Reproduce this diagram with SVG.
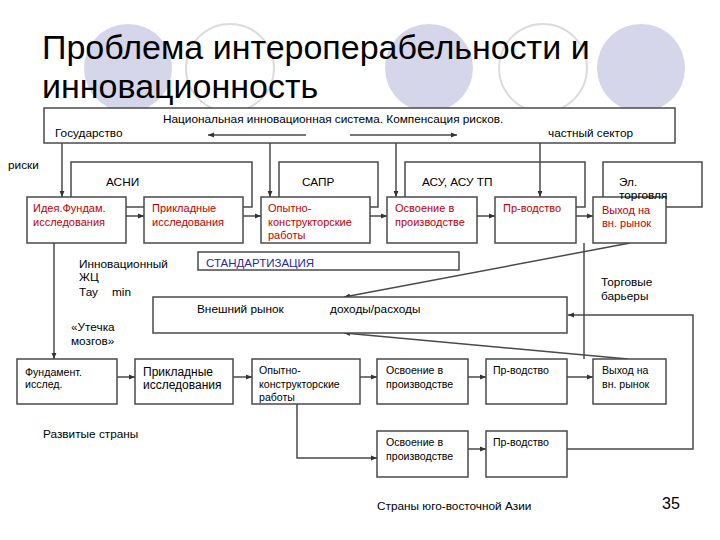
<svg xmlns="http://www.w3.org/2000/svg" width="720" height="540" viewBox="0 0 720 540">
<defs>
<marker id="a" viewBox="0 0 6 6" refX="6" refY="3" markerWidth="6" markerHeight="6" markerUnits="userSpaceOnUse" orient="auto"><path d="M0,0.6 L6,3 L0,5.4z" fill="#333"/></marker>
<style>
text{font-family:"Liberation Sans",Arial,sans-serif;fill:#000}
.b{fill:#fff;stroke:#4a4a4a;stroke-width:1.5}
.l{fill:none;stroke:#4a4a4a;stroke-width:1.5}
.ar{fill:none;stroke:#4a4a4a;stroke-width:1.5;marker-end:url(#a)}
.t{font-size:11.8px}
.r{font-size:11px;fill:#c00000}
.s{font-size:10.6px}
.lav{fill:#d6d6ea}
.ring{fill:#fff;stroke:#dcdcdc;stroke-width:2}
</style>
</defs>
<rect width="720" height="540" fill="#fff"/>
<g id="background">
<circle class="lav" cx="128" cy="68" r="44"/>
<circle class="ring" cx="230" cy="68" r="44"/>
<circle class="lav" cx="429" cy="68" r="44"/>
<circle class="ring" cx="543" cy="68" r="44"/>
<circle class="lav" cx="641" cy="68" r="44"/>
</g>
<g id="title">
<text x="42" y="59" font-size="34">Проблема интероперабельности и</text>
<text x="42" y="98" font-size="34">инновационность</text>
</g>
<g id="frames">
<path class="l" d="M71,197 V162 H252 V207 H243"/>
<path class="l" d="M279,197 V162 H378 V207 H370"/>
<path class="l" d="M405,197 V162 H585 V207 H576"/>
<path class="l" d="M603,197 V162 H702 V207 H666"/>
<text class="t" x="106" y="186" font-size="12">АСНИ</text>
<text class="t" x="302" y="186" font-size="12">САПР</text>
<text class="t" x="422" y="186" font-size="12">АСУ, АСУ ТП</text>
<text class="t" x="619" y="186" font-size="12">Эл.</text>
</g>
<g id="nis">
<rect class="b" x="44" y="108" width="631" height="35"/>
<text class="t" x="163" y="123">Национальная инновационная система. Компенсация рисков.</text>
<text class="t" x="55" y="137">Государство</text>
<text class="t" x="548" y="137">частный сектор</text>
</g>
<g id="connectors">
<line class="ar" x1="306" y1="135" x2="208" y2="135"/>
<line class="ar" x1="350" y1="135" x2="457" y2="135"/>
<line class="ar" x1="62" y1="143" x2="62" y2="197"/>
<line class="ar" x1="270" y1="143" x2="270" y2="197"/>
<line class="ar" x1="396" y1="143" x2="396" y2="197"/>
<line class="ar" x1="540" y1="143" x2="540" y2="197"/>
<line class="l" x1="126" y1="207" x2="144" y2="207"/>
<line class="ar" x1="126" y1="216" x2="144" y2="216"/>
<line class="ar" x1="243" y1="216" x2="261" y2="216"/>
<line class="ar" x1="370" y1="216" x2="387" y2="216"/>
<line class="ar" x1="477" y1="216" x2="495" y2="216"/>
<line class="ar" x1="576" y1="216" x2="593" y2="216"/>
<line class="ar" x1="54" y1="243" x2="54" y2="359"/>
<line class="ar" x1="630" y1="243" x2="344" y2="297"/>
<line class="ar" x1="628" y1="359" x2="344" y2="333"/>
<line class="l" x1="584" y1="243" x2="584" y2="359"/>
<path class="ar" d="M567,449 H693 V315 H568"/>
<line class="ar" x1="117" y1="377" x2="135" y2="377"/>
<line class="ar" x1="233" y1="377" x2="252" y2="377"/>
<line class="ar" x1="360" y1="377" x2="377" y2="377"/>
<line class="ar" x1="468" y1="377" x2="486" y2="377"/>
<line class="ar" x1="567" y1="377" x2="593" y2="377"/>
<path class="ar" d="M297,404 V458 H377"/>
<line class="ar" x1="468" y1="449" x2="486" y2="449"/>
</g>
<g id="n1"><rect class="b" x="27" y="197" width="99" height="46"/><text class="r" x="33" y="212">Идея.Фундам.</text><text class="r" x="33" y="225.5">исследования</text></g>
<g id="n2"><rect class="b" x="144" y="197" width="99" height="46"/><text class="r" x="152" y="212">Прикладные</text><text class="r" x="152" y="225.5">исследования</text></g>
<g id="n3"><rect class="b" x="261" y="197" width="109" height="46"/><text class="r" x="268" y="212">Опытно-</text><text class="r" x="268" y="225.5">конструкторские</text><text class="r" x="268" y="239">работы</text></g>
<g id="n4"><rect class="b" x="387" y="197" width="90" height="46"/><text class="r" x="395" y="212">Освоение в</text><text class="r" x="395" y="225.5">производстве</text></g>
<g id="n5"><rect class="b" x="495" y="197" width="81" height="46"/><text class="r" x="503" y="212">Пр-водство</text></g>
<g id="n6"><rect class="b" x="593" y="197" width="73" height="46"/><text class="r" x="602" y="213.5">Выход на</text><text class="r" x="602" y="226.5">вн. рынок</text></g>
<text class="t" x="619" y="198.5" font-size="12">торговля</text>
<g id="labels">
<text class="t" x="8" y="169">риски</text>
<text class="t" x="79" y="267.5" font-size="12">Инновационный</text>
<text class="t" x="79" y="280.5" font-size="12">ЖЦ</text>
<text class="t" x="79" y="296" font-size="12">Тау</text>
<text class="t" x="112" y="296" font-size="12">min</text>
<text class="t" x="71" y="331">«Утечка</text>
<text class="t" x="71" y="344.5">мозгов»</text>
<text class="t" x="601" y="286">Торговые</text>
<text class="t" x="601" y="299.5">барьеры</text>
<text class="t" x="43" y="437.5" font-size="12">Развитые страны</text>
<text class="t" x="377" y="509.5" font-size="12">Страны юго-восточной Азии</text>
<text x="662" y="509" font-size="16">35</text>
</g>
<g id="std"><rect class="b" x="198" y="252" width="261" height="18"/><text x="206" y="267" font-size="11.5" fill="#2a2aa0" style="fill:#2a2aa0">СТАНДАРТИЗАЦИЯ</text></g>
<g id="market"><rect class="b" x="153" y="297" width="414" height="36"/><text class="t" x="197" y="312.5">Внешний рынок</text><text class="t" x="330" y="312.5">доходы/расходы</text></g>
<g id="m1"><rect class="b" x="17" y="359" width="100" height="45"/><text class="s" x="25" y="375.5">Фундамент.</text><text class="s" x="25" y="387.5">исслед.</text></g>
<g id="m2"><rect class="b" x="135" y="359" width="98" height="45"/><text x="143" y="375.5" font-size="12">Прикладные</text><text x="143" y="388.5" font-size="12">исследования</text></g>
<g id="m3"><rect class="b" x="252" y="359" width="108" height="45"/><text class="s" x="259" y="374">Опытно-</text><text class="s" x="259" y="387.5">конструкторские</text><text class="s" x="259" y="401">работы</text></g>
<g id="m4"><rect class="b" x="377" y="359" width="91" height="45"/><text class="s" x="386" y="374">Освоение в</text><text class="s" x="386" y="387.5">производстве</text></g>
<g id="m5"><rect class="b" x="486" y="359" width="81" height="45"/><text class="s" x="493" y="374">Пр-водство</text></g>
<g id="m6"><rect class="b" x="593" y="359" width="73" height="45"/><text class="s" x="602" y="374">Выход на</text><text class="s" x="602" y="387.5">вн. рынок</text></g>
<g id="k4"><rect class="b" x="377" y="431" width="91" height="46"/><text class="s" x="386" y="446">Освоение в</text><text class="s" x="386" y="460">производстве</text></g>
<g id="k5"><rect class="b" x="486" y="431" width="81" height="46"/><text class="s" x="493" y="446">Пр-водство</text></g>
</svg>
